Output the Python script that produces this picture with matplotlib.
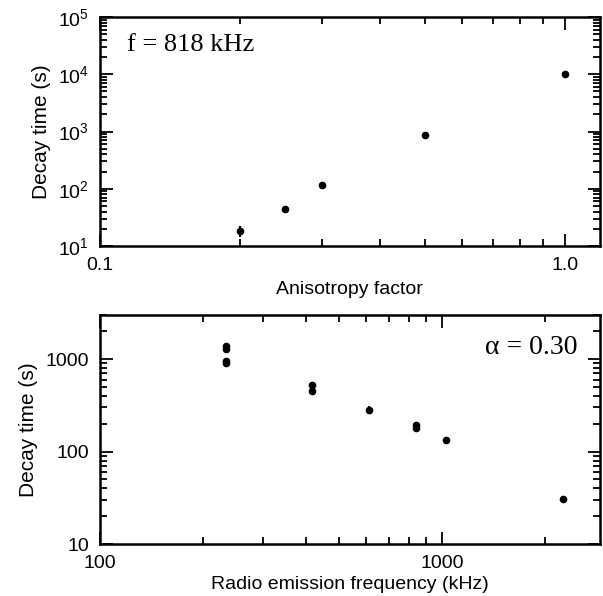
import matplotlib
matplotlib.use("Agg")
import matplotlib.pyplot as plt
import numpy as np
from matplotlib.ticker import LogLocator, FixedLocator, NullFormatter, FixedFormatter

plt.rcParams['font.family'] = ['Liberation Sans', 'DejaVu Sans']
plt.rcParams['mathtext.fontset'] = 'custom'
plt.rcParams['mathtext.rm'] = 'Liberation Sans'
plt.rcParams['mathtext.it'] = 'Liberation Sans'

# top panel: decay time vs anisotropy factor (f = 818 kHz)
aniso = [0.2, 0.25, 0.3, 0.5, 1.0]
decay_a = [18.5, 45, 115, 870, 10200]
err_a = [0.22, 0.1, 0.12, 0.12, 0.12]  # fractional

# bottom panel: decay time vs frequency (alpha = 0.30)
freq = [233, 233, 233, 233, 417, 417, 612, 838, 838, 1028, 2264]
decay_f = [1400, 1280, 950, 900, 530, 450, 283, 192, 180, 133, 30.5]
err_f = [0.03, 0.03, 0.08, 0.08, 0.06, 0.06, 0.09, 0.08, 0.08, 0.08, 0.07]

fig = plt.figure(figsize=(6.03, 5.96), dpi=100)
ax1 = fig.add_axes([0.1658, 0.5872, 0.829, 0.3843])
ax2 = fig.add_axes([0.1658, 0.0872, 0.829, 0.3843])


def style(ax):
    ax.set_xscale('log')
    ax.set_yscale('log')
    for s in ax.spines.values():
        s.set_linewidth(1.8)
    ax.tick_params(which='both', direction='in', top=True, right=True,
                   width=1.3, labelsize=14)
    ax.tick_params(which='major', length=9, pad=8)
    ax.tick_params(which='minor', length=5)


style(ax1)
ya = np.array(decay_a)
ea = np.array(err_a) * ya
ax1.errorbar(aniso, decay_a, yerr=ea, xerr=np.array(aniso) * 0.012, fmt='o',
             color='black', ms=4.5, elinewidth=1.6, capsize=0)
ax1.set_xlim(0.1, 1.19)
ax1.set_ylim(10, 1e5)
ax1.xaxis.set_major_locator(FixedLocator([0.1, 1.0]))
ax1.xaxis.set_major_formatter(FixedFormatter(['0.1', '1.0']))
ax1.xaxis.set_minor_locator(LogLocator(base=10, subs=np.arange(2, 10)))
ax1.xaxis.set_minor_formatter(NullFormatter())
ax1.yaxis.set_major_locator(FixedLocator([1e1, 1e2, 1e3, 1e4, 1e5]))
ax1.yaxis.set_major_formatter(FixedFormatter([r'$10^{1}$', r'$10^{2}$', r'$10^{3}$',
                                              r'$10^{4}$', r'$10^{5}$']))
ax1.yaxis.set_minor_locator(LogLocator(base=10, subs=np.arange(2, 10)))
ax1.yaxis.set_minor_formatter(NullFormatter())
ax1.set_xlabel('Anisotropy factor', fontsize=14, labelpad=5)
ax1.set_ylabel('Decay time (s)', fontsize=15, labelpad=5)
ax1.text(0.054, 0.878, 'f = 818 kHz', transform=ax1.transAxes, fontsize=19,
         va='center', family=['Liberation Serif', 'DejaVu Serif'])

style(ax2)
yf = np.array(decay_f)
ef = np.array(err_f) * yf
ax2.errorbar(freq, decay_f, yerr=ef, xerr=np.array(freq) * 0.012, fmt='o',
             color='black', ms=4.5, elinewidth=1.6, capsize=0)
ax2.set_xlim(100, 2900)
ax2.set_ylim(10, 3000)
ax2.xaxis.set_major_locator(FixedLocator([100, 1000]))
ax2.xaxis.set_major_formatter(FixedFormatter(['100', '1000']))
ax2.xaxis.set_minor_locator(LogLocator(base=10, subs=np.arange(2, 10)))
ax2.xaxis.set_minor_formatter(NullFormatter())
ax2.yaxis.set_major_locator(FixedLocator([10, 100, 1000]))
ax2.yaxis.set_major_formatter(FixedFormatter(['10', '100', '1000']))
ax2.yaxis.set_minor_locator(LogLocator(base=10, subs=np.arange(2, 10)))
ax2.yaxis.set_minor_formatter(NullFormatter())
ax2.set_xlabel('Radio emission frequency (kHz)', fontsize=14, labelpad=3)
ax2.set_ylabel('Decay time (s)', fontsize=15, labelpad=5)
ax2.text(0.956, 0.856, r'α = 0.30', transform=ax2.transAxes, fontsize=20, ha='right',
         va='center', family=['Liberation Serif', 'DejaVu Serif'])

fig.savefig('out.png', dpi=100)
